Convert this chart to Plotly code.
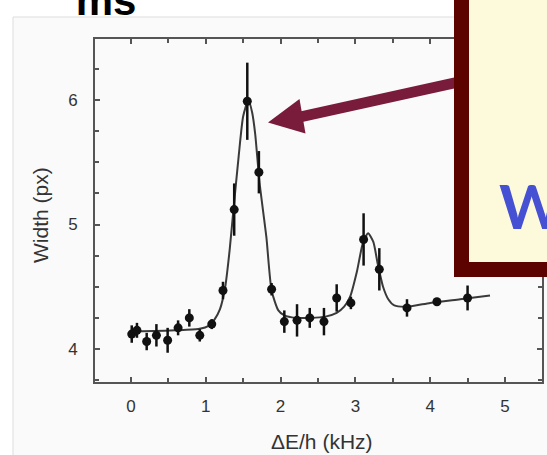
import plotly.graph_objects as go

# Measured cloud width versus detuning
detuning_khz = [0.01, 0.08, 0.21, 0.34, 0.49, 0.63, 0.78, 0.92, 1.08, 1.23,
                1.38, 1.555, 1.71, 1.88, 2.05, 2.22, 2.39, 2.58, 2.75, 2.94,
                3.11, 3.32, 3.69, 4.09, 4.50]
width_px = [4.12, 4.15, 4.06, 4.11, 4.07, 4.17, 4.25, 4.11, 4.20, 4.47,
            5.12, 5.99, 5.42, 4.48, 4.22, 4.23, 4.25, 4.22, 4.41, 4.37,
            4.88, 4.64, 4.33, 4.38, 4.41]
width_err = [0.07, 0.06, 0.07, 0.09, 0.10, 0.06, 0.07, 0.05, 0.04, 0.07,
             0.21, 0.31, 0.17, 0.05, 0.09, 0.13, 0.08, 0.11, 0.11, 0.05,
             0.21, 0.17, 0.07, 0.03, 0.10]

# Fitted resonance curve
fit_x = [0.00, 0.30, 0.60, 0.90, 1.05, 1.12, 1.19, 1.26, 1.32, 1.37, 1.44,
         1.50, 1.57, 1.62, 1.66, 1.72, 1.81, 1.88, 1.97, 2.05, 2.20, 2.40,
         2.60, 2.75, 2.85, 2.93, 3.02, 3.10, 3.17, 3.24, 3.30, 3.37, 3.44,
         3.52, 3.70, 4.00, 4.40, 4.80]
fit_y = [4.14, 4.145, 4.15, 4.16, 4.19, 4.24, 4.32, 4.50, 4.80, 5.12, 5.55,
         5.87, 6.00, 5.90, 5.73, 5.33, 4.90, 4.47, 4.31, 4.27, 4.25, 4.25,
         4.26, 4.29, 4.34, 4.42, 4.62, 4.85, 4.93, 4.86, 4.68, 4.50, 4.40,
         4.35, 4.34, 4.37, 4.40, 4.43]

x_ticks = [0, 1, 2, 3, 4, 5]
y_ticks = [4, 5, 6]

W, H = 547, 455


def px(x):
    return x / W


def py(y):
    return 1 - y / H


AXIS_COLOR = "#555555"
TEXT_COLOR = "#333333"
FONT = "Liberation Sans"

fig = go.Figure()

fig.add_trace(go.Scatter(
    x=fit_x, y=fit_y, mode="lines",
    line=dict(color="#3a3a3a", width=2, shape="spline", smoothing=0.6),
    hoverinfo="skip", showlegend=False,
))
fig.add_trace(go.Scatter(
    x=detuning_khz, y=width_px, mode="markers",
    marker=dict(color="#111111", size=9),
    error_y=dict(type="data", array=width_err, thickness=2.5, width=0,
                 color="#111111"),
    showlegend=False,
))

# Heading fragment above the panel, clipped by the panel's top edge
fig.add_trace(go.Scatter(
    x=[106], y=[4], mode="text", text=["<b>ms</b>"],
    textfont=dict(family=FONT, size=42, color="black"),
    textposition="middle center", cliponaxis=True,
    xaxis="x2", yaxis="y2", showlegend=False, hoverinfo="skip",
))

axis_common = dict(
    showline=True, linecolor=AXIS_COLOR, linewidth=2, mirror="ticks",
    ticks="inside", ticklen=5, tickwidth=1.5, tickcolor=AXIS_COLOR,
    showgrid=False, zeroline=False,
    tickfont=dict(family=FONT, size=17, color=TEXT_COLOR),
)

fig.update_layout(
    width=W, height=H,
    margin=dict(l=0, r=0, t=0, b=0),
    paper_bgcolor="white",
    plot_bgcolor="rgba(0,0,0,0)",
    xaxis=dict(
        domain=[px(95), px(542)], range=[-0.481, 5.495],
        tickvals=x_ticks, ticktext=[str(v) for v in x_ticks],
        minor=dict(ticks="inside", dtick=0.5, ticklen=4, tickcolor=AXIS_COLOR,
                   tickwidth=1.5),
        ticklabelstandoff=8,
        **axis_common,
    ),
    yaxis=dict(
        domain=[1 - 382 / H, 1 - 39 / H], range=[3.735, 6.49],
        tickvals=y_ticks, ticktext=[str(v) for v in y_ticks],
        minor=dict(ticks="inside", dtick=0.25, ticklen=4, tickcolor=AXIS_COLOR,
                   tickwidth=1.5),
        ticklabelstandoff=12,
        **axis_common,
    ),
    xaxis2=dict(domain=[0, 1], range=[0, W], visible=False, anchor="y2"),
    yaxis2=dict(domain=[1 - 17 / H, 1], range=[17, 0], visible=False,
                anchor="x2"),
)

shapes = [
    # light panel behind the chart
    dict(type="rect", xref="paper", yref="paper", layer="below",
         x0=px(13), x1=px(600), y0=py(500), y1=py(17),
         fillcolor="#fafafa", line=dict(color="#dddddd", width=1)),
    # arrow shaft and head
    dict(type="line", xref="paper", yref="paper", layer="above",
         x0=px(300), y0=py(117), x1=px(470), y1=py(79.5),
         line=dict(color="#791b3b", width=11)),
    dict(type="path", xref="paper", yref="paper", layer="above",
         path=(f"M {px(268):.5f} {py(122.5):.5f} "
               f"L {px(299.5):.5f} {py(99):.5f} "
               f"L {px(305.5):.5f} {py(133.5):.5f} Z"),
         fillcolor="#791b3b", line=dict(width=0)),
    # callout box
    dict(type="rect", xref="paper", yref="paper", layer="above",
         x0=px(461.5), x1=px(620), y0=py(269.5), y1=py(-60),
         fillcolor="#fdfadc", line=dict(color="#5c0300", width=15)),
]
fig.update_layout(shapes=shapes)

annotations = [
    dict(text="ΔE/h (kHz)", xref="paper", yref="paper",
         x=px(322), y=py(441), xanchor="center", yanchor="middle",
         showarrow=False, font=dict(family=FONT, size=21, color=TEXT_COLOR)),
    dict(text="Width (px)", xref="paper", yref="paper",
         x=px(40), y=py(215), xanchor="center", yanchor="middle",
         textangle=-90, showarrow=False,
         font=dict(family=FONT, size=21, color=TEXT_COLOR)),
    dict(text="W", xref="paper", yref="paper",
         x=px(497), y=py(244), xanchor="left", yanchor="bottom",
         showarrow=False,
         font=dict(family="Lato", size=62, color="#4650d2", weight="bold")),
]
fig.update_layout(annotations=annotations)

fig.write_html("out.html")
